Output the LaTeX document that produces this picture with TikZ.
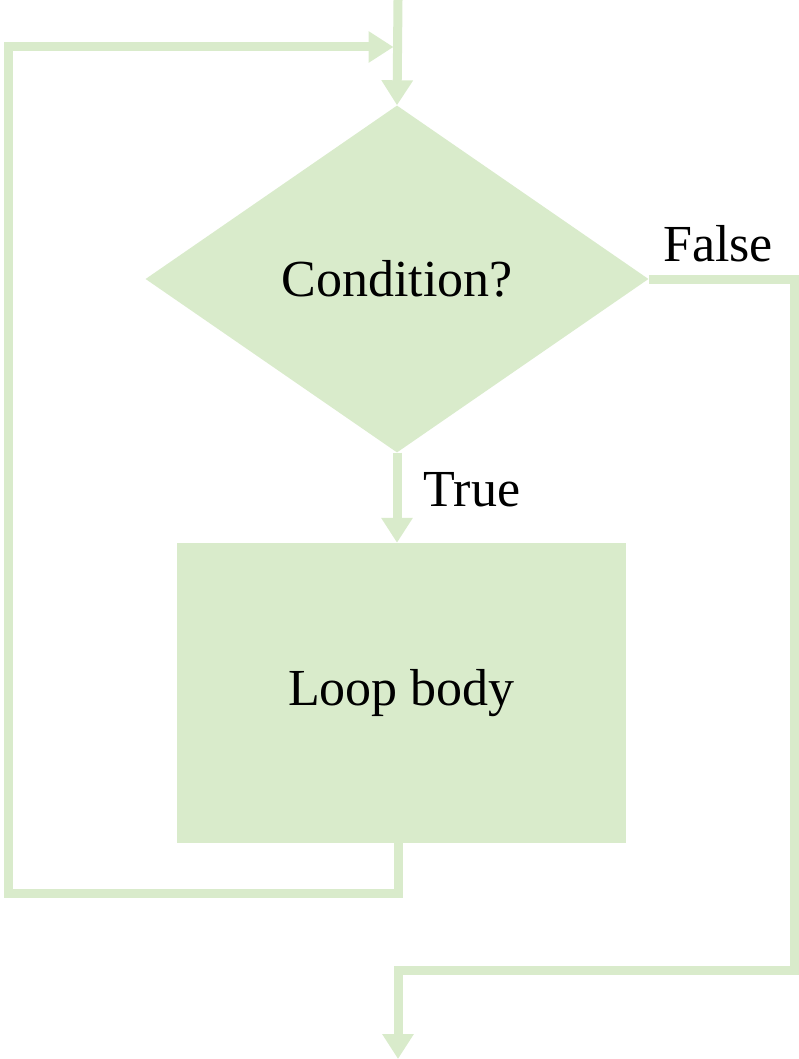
\documentclass[tikz,border=0pt]{standalone}
\usepackage{fontspec}
\setmainfont{Liberation Serif}
\usetikzlibrary{shapes.geometric,arrows.meta}
\definecolor{flowgreen}{HTML}{D9EBCB}
\begin{document}
\begin{tikzpicture}[x=1pt,y=-1pt,>={Triangle[length=25pt,width=30pt]},
	flow/.style={draw=flowgreen,line width=9pt},
	cond/.style={diamond,fill=flowgreen,inner sep=0pt,minimum width=503pt,minimum height=347pt},
	body/.style={rectangle,fill=flowgreen,minimum width=449pt,minimum height=300pt},
	lbl/.style={font=\fontsize{52}{62}\selectfont,text=black}]
	\useasboundingbox (0,0) rectangle (798,1059);
	\node[cond,lbl] (cond) at (397,279) {Condition?};
	\node[body,lbl] (body) at (401.5,693) {Loop body};
	\coordinate (top) at (398,0);
	\coordinate (entry) at (398,47);
	\coordinate (loopleft) at (8,893);
	\coordinate (falsecorner) at (794,970);
	\coordinate (exit) at (398,1059);
	\draw[flow,->] (top) -- (cond.north);
	\draw[flow,->] (cond.south) -- (body.north -| cond.south);
	\draw[flow,->,shorten >=4.5pt] (body.south -| top) |- (loopleft) |- (entry);
	\draw[flow,->] (cond.east) -| (falsecorner) -| (exit);
	\node[lbl] (truelbl) at (472,490) {True};
	\node[lbl] (falselbl) at (718,244) {False};
\end{tikzpicture}
\end{document}
